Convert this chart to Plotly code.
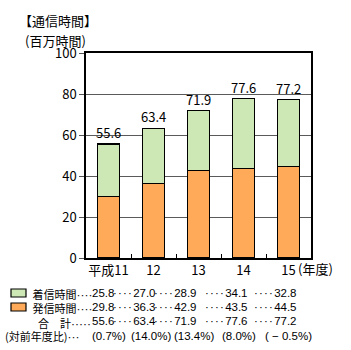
import plotly.graph_objects as go

# Fiscal years and communication time (million hours)
years = ["平成11", "12", "13", "14", "15"]
incoming = [25.8, 27.0, 28.9, 34.1, 32.8]   # 着信時間
outgoing = [29.8, 36.3, 42.9, 43.5, 44.5]   # 発信時間
totals = [55.6, 63.4, 71.9, 77.6, 77.2]     # 合計
yoy = ["(0.7%)", "(14.0%)", "(13.4%)", "(8.0%)", "( − 0.5%)"]
row_labels = ["着信時間", "発信時間", "合　計", "(対前年度比)"]

GREEN = "#cde8b4"
ORANGE = "#ffaa58"
FONT = "Noto Sans CJK JP"
NUMFONT = "Liberation Sans"
FS = 13      # axis / title text
TS = 11.5    # table numbers
LS = 11      # table row labels

W, H = 351, 350
L, R, T, B = 86, 311, 53, 258  # plot area in pixels


def px(x):
    return (x - L) / (R - L)


def py(y):
    return (B - y) / (B - T)


def note(x, y, text, size, xanchor="left", family=FONT, yanchor="middle", align="left"):
    return dict(x=x, y=y, xref="paper", yref="paper", text=text, showarrow=False, borderpad=0,
                xanchor=xanchor, yanchor=yanchor, align=align, font=dict(size=size, family=family))


fig = go.Figure()
fig.add_bar(x=years, y=outgoing, name="発信時間", marker=dict(color=ORANGE, line=dict(color="black", width=1.1)),
            width=0.49)
fig.add_bar(x=years, y=incoming, name="着信時間", marker=dict(color=GREEN, line=dict(color="black", width=1.1)),
            width=0.49)

ann = []
# totals above bars (category index positions)
for i, tot in enumerate(totals):
    ann.append(dict(x=i, y=tot, xref="x", yref="y", text=f"{tot:.1f}", showarrow=False, borderpad=0,
                    yanchor="bottom", yshift=1, font=dict(size=FS)))

# titles
ann.append(note(px(18), py(20), "【通信時間】", FS))
ann.append(note(px(24), py(41), "(百万時間)", FS))
ann.append(note(px(297), py(268), "(年度)", FS))

# data table below the chart
SMALLDOTS = "<span style='font-size:8px'>{}</span>"
DOTS = "<span style='letter-spacing:1.2px'>{}</span>"
IND = "\u3000\u3000\u2002"
label_block = "<br>".join([
    IND + row_labels[0] + SMALLDOTS.format("･" * 4),
    IND + row_labels[1] + SMALLDOTS.format("･" * 4),
    IND + "\u2002" + row_labels[2] + SMALLDOTS.format("･" * 5),
])
rows_y = [293, 307, 321, 336]
ann.append(note(px(4), py(rows_y[0] - 8), label_block, LS, yanchor="top"))
ann.append(note(px(4), py(rows_y[3]), row_labels[3] + SMALLDOTS.format("･･･"), LS))

val_right = [115, 157, 198, 249, 298]
for yy, vals in [(rows_y[0], incoming), (rows_y[1], outgoing), (rows_y[2], totals)]:
    for i, (v, xr) in enumerate(zip(vals, val_right)):
        lead = "" if i == 0 else DOTS.format("·" * 4)
        ann.append(note(px(xr), py(yy), lead + f"{v:.1f}", TS, xanchor="right", family=NUMFONT))

yoy_center = [109, 151, 194, 239, 288]
for t, xc in zip(yoy, yoy_center):
    ann.append(note(px(xc), py(rows_y[3]), t, TS, xanchor="center", family=NUMFONT))

# legend swatches
shapes = []
for yy, col in [(rows_y[0], GREEN), (rows_y[1], ORANGE)]:
    shapes.append(dict(type="rect", xref="paper", yref="paper",
                       x0=px(11), x1=px(26), y0=py(yy - 4), y1=py(yy + 4),
                       fillcolor=col, line=dict(color="black", width=1.2)))

fig.update_layout(
    width=W, height=H,
    margin=dict(l=L, r=W - R, t=T, b=H - B, pad=0),
    barmode="stack",
    showlegend=False,
    plot_bgcolor="white", paper_bgcolor="white",
    font=dict(family=FONT, size=FS, color="black"),
    annotations=ann,
    shapes=shapes,
)
fig.update_yaxes(range=[0, 100], dtick=20, showgrid=True, gridcolor="#5a5a5a", gridwidth=1,
                 ticks="outside", ticklen=5, tickcolor="#555555", showline=True, linecolor="black",
                 linewidth=1.5, mirror=True, zeroline=False, tickfont=dict(size=FS))
fig.update_xaxes(type="category", range=[-0.5, 4.5], showline=True, linecolor="black", linewidth=1.5,
                 mirror=True, ticks="inside", tickson="boundaries", ticklen=4, tickcolor="black",
                 tickangle=0, tickfont=dict(size=FS))

fig.write_html("out.html")
